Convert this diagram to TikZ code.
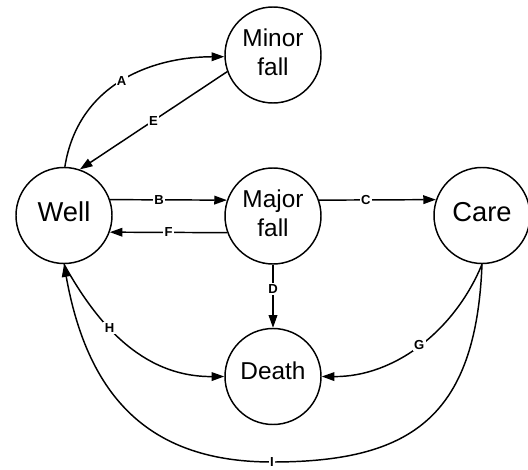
\documentclass[tikz,border=0pt]{standalone}
\usepackage{fontspec}
\setmainfont{Liberation Sans}
\usetikzlibrary{arrows.meta}
\begin{document}
\begin{tikzpicture}[x=0.75pt,y=-0.75pt,
  state/.style={circle,draw,line width=1.1pt,minimum size=72pt,inner sep=0pt},
  bigtext/.style={font=\fontsize{20.5}{24}\selectfont,text height=13pt,text depth=3.7pt},
  midtext/.style={font=\fontsize{18.3}{22}\selectfont,text height=12pt,text depth=6.8pt},
  twotext/.style={font=\fontsize{18.3}{22}\selectfont},
  edge/.style={line width=1.1pt,-{Triangle[length=9.5pt,width=6.5pt]}},
  lbl/.style={fill=white,inner sep=1pt,font=\bfseries\fontsize{9.8}{11}\selectfont}]
\useasboundingbox[fill=white] (0,0) rectangle (528,470);
\node[state,bigtext] (Well) at (64,215.5) {Well};
\node[state,twotext] (Minor) at (273,55) {\begin{tabular}{@{}c@{}}Minor\\fall\end{tabular}};
\node[state,twotext] (Major) at (273,216) {\begin{tabular}{@{}c@{}}Major\\fall\end{tabular}};
\node[state,bigtext] (Care) at (482,215.5) {Care};
\node[state,midtext] (Death) at (273,376.5) {Death};
\draw[edge] (Well.89) .. controls (78,85) and (150,57) .. (Minor.182) node[pos=0.5,lbl] {A};
\draw[edge] (Minor.200) -- (Well.71) node[pos=0.5,lbl] {E};
\draw[edge] (Well.19) -- (Major.161) node[pos=0.42,lbl] {B};
\draw[edge] (Major.-160) -- (Well.-20) node[pos=0.5,lbl] {F};
\draw[edge] (Major.19) -- (Care.161) node[pos=0.4,lbl] {C};
\draw[edge] (Major.south) -- (Death.north) node[pos=0.38,lbl] {D};
\draw[edge] (Care.south) .. controls (455,330) and (395,377) .. (Death.east) node[pos=0.5,lbl] {G};
\draw[edge] (Well.south) .. controls (95,320) and (140,377) .. (Death.west) node[pos=0.4,lbl] {H};
\draw[edge] (Care.south) .. controls (476,418) and (410,462) .. (272,462) node[lbl] {I} .. controls (150,462) and (88,398) .. (Well.south);
\end{tikzpicture}
\end{document}
